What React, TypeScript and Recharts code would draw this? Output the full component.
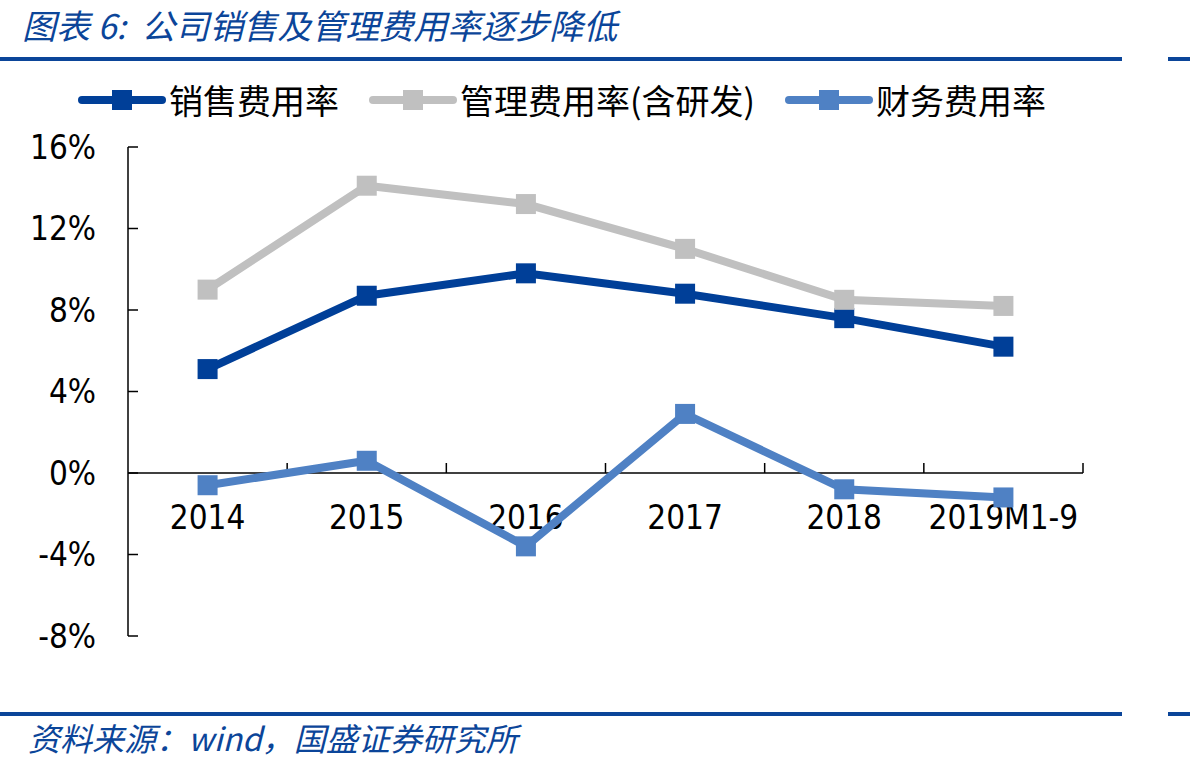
import React from 'react';
import { ComposedChart, Line, XAxis, YAxis, ReferenceLine, Legend } from 'recharts';

const categories = ['2014', '2015', '2016', '2017', '2018', '2019M1-9'];
const sellingRate = [5.1, 8.7, 9.8, 8.8, 7.6, 6.2];
const adminRate = [9.0, 14.1, 13.2, 11.0, 8.5, 8.2];
const financeRate = [-0.6, 0.6, -3.6, 2.9, -0.8, -1.2];
const yTicks = [-8, -4, 0, 4, 8, 12, 16];
const seriesNames = ['销售费用率', '管理费用率(含研发)', '财务费用率'];
const titleText = '图表 6:  公司销售及管理费用率逐步降低';
const sourceText = '资料来源：wind，国盛证券研究所';

const DARK = '#003F98';
const GRAY = '#C0C0C0';
const LIGHT = '#4F81C4';
const BRAND = '#0B4599';
const NUM_FONT = '"DejaVu Sans Condensed", "Liberation Sans", sans-serif';
const CJK_FONT = '"Noto Sans CJK SC", sans-serif';

const data = categories.map((c, i) => ({
  cat: c,
  s: sellingRate[i],
  a: adminRate[i],
  f: financeRate[i],
}));

const squareDot = (color: string) => (props: any) => {
  const { cx, cy, index } = props;
  if (cx == null || cy == null) return <g key={`e${index}`} />;
  return <rect key={`d${index}`} x={cx - 10} y={cy - 10} width={20} height={20} fill={color} />;
};

const AxisLabels = (props: any) => {
  const vb = props.viewBox;
  if (!vb) return null;
  const n = categories.length;
  const step = vb.width / n;
  return (
    <g>
      {categories.map((c, i) => (
        <g key={c}>
          <line
            x1={vb.x + step * (i + 1)}
            x2={vb.x + step * (i + 1)}
            y1={vb.y}
            y2={vb.y - 10}
            stroke="#000"
            strokeWidth={1.5}
          />
          <text
            x={vb.x + step * (i + 0.5)}
            y={vb.y + 56}
            textAnchor="middle"
            fontSize={33}
            fontFamily={NUM_FONT}
            fill="#000"
          >
            {c}
          </text>
        </g>
      ))}
    </g>
  );
};

const LegendContent = (props: any) => {
  const payload = [...(props.payload || [])].sort(
    (p: any, q: any) => seriesNames.indexOf(p.value) - seriesNames.indexOf(q.value)
  );
  return (
    <div style={{ display: 'flex', alignItems: 'center', whiteSpace: 'nowrap' }}>
      {payload.map((p: any, i: number) => (
        <div key={i} style={{ display: 'flex', alignItems: 'center', marginRight: 30 }}>
          <svg width={88} height={24}>
            <line x1={4} x2={84} y1={12} y2={12} stroke={p.color} strokeWidth={8} strokeLinecap="round" />
            <rect x={34} y={2} width={20} height={20} fill={p.color} />
          </svg>
          <span style={{ fontFamily: CJK_FONT, fontSize: 34, color: '#000', marginLeft: 3, lineHeight: '40px' }}>
            {p.value}
          </span>
        </div>
      ))}
    </div>
  );
};

export default function App() {
  return (
    <div style={{ position: 'absolute', left: 0, top: 0, width: 1190, height: 766, background: '#fff', overflow: 'hidden' }}>
      <div
        style={{
          position: 'absolute',
          left: 22,
          top: 3,
          fontFamily: CJK_FONT,
          fontStyle: 'italic',
          fontSize: 34,
          color: BRAND,
          whiteSpace: 'pre',
          lineHeight: '44px',
        }}
      >
        {titleText}
      </div>
      <div style={{ position: 'absolute', left: 0, top: 57, width: 1122, height: 4, background: BRAND }} />
      <div style={{ position: 'absolute', left: 1168, top: 57, width: 22, height: 4, background: BRAND }} />

      <div style={{ position: 'absolute', left: 0, top: 0 }}>
        <ComposedChart
          width={1190}
          height={766}
          data={data}
          margin={{ top: 147, right: 107, bottom: 130, left: 28 }}
        >
          <XAxis dataKey="cat" hide scale="band" />
          <YAxis
            width={100}
            domain={[-8, 16]}
            ticks={yTicks}
            interval={0}
            tickFormatter={(v: number) => `${v}%`}
            axisLine={{ stroke: '#000', strokeWidth: 1.5 }}
            tickLine={{ stroke: '#000', strokeWidth: 1.5 }}
            tickSize={-10}
            tickMargin={42}
            tick={{ fontSize: 33, fontFamily: NUM_FONT, fill: '#000' }}
          />
          <ReferenceLine y={0} stroke="#000" strokeWidth={1.5} label={<AxisLabels />} ifOverflow="visible" />
          <Legend
            verticalAlign="middle"
            align="center"
            content={<LegendContent />}
            wrapperStyle={{ top: 80, left: 78, width: 1100, height: 40 }}
          />
          <Line
            type="linear"
            dataKey="s"
            name={seriesNames[0]}
            stroke={DARK}
            strokeWidth={8}
            dot={squareDot(DARK)}
            activeDot={false}
            isAnimationActive={false}
          />
          <Line
            type="linear"
            dataKey="a"
            name={seriesNames[1]}
            stroke={GRAY}
            strokeWidth={8}
            dot={squareDot(GRAY)}
            activeDot={false}
            isAnimationActive={false}
          />
          <Line
            type="linear"
            dataKey="f"
            name={seriesNames[2]}
            stroke={LIGHT}
            strokeWidth={8}
            dot={squareDot(LIGHT)}
            activeDot={false}
            isAnimationActive={false}
          />
        </ComposedChart>
      </div>

      <div style={{ position: 'absolute', left: 0, top: 712, width: 1122, height: 4, background: BRAND }} />
      <div style={{ position: 'absolute', left: 1168, top: 712, width: 22, height: 4, background: BRAND }} />
      <div
        style={{
          position: 'absolute',
          left: 28,
          top: 716,
          fontFamily: CJK_FONT,
          fontStyle: 'italic',
          fontSize: 32,
          color: BRAND,
          whiteSpace: 'pre',
          lineHeight: '42px',
        }}
      >
        {sourceText}
      </div>
    </div>
  );
}
